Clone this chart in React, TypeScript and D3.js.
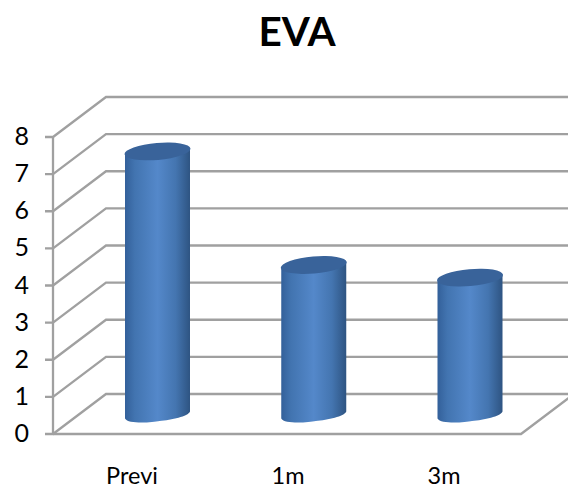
import React from "react";
import * as d3 from "d3";

const categories = ["Previ", "1m", "3m"];
const values = [7.1, 4.04, 3.7];
const yTicks = [0, 1, 2, 3, 4, 5, 6, 7, 8];
const title = "EVA";

const W = 568, H = 488;
const left = 53, right = 521, dx = 53, dy = -40;
const y = d3.scaleLinear().domain([0, 8]).range([434, 137]);
const xBar = d3.scalePoint<string>().domain(categories).range([157.5, 470]);
const xLabel = d3.scalePoint<string>().domain(categories).range([132, 444]);
const baseOffset = 19; // floor inset of the cylinder base
const rx = 32.5, tilt = -5;
const grey = "#a0a0a0";
const font = "Lato, 'Open Sans', sans-serif";

function cylPath(cx: number, top: number, base: number) {
  const s = 3.5;
  const tl = top + s, tr = top - s, bl = base + s, br = base - s;
  return `M${cx - rx},${tl} L${cx - rx},${bl} C${cx - rx + 3},${bl + 6} ${cx - 5},${bl + 4} ${cx + 2},${base + 6} C${cx + 14},${base + 5} ${cx + rx - 2},${br + 5} ${cx + rx},${br} L${cx + rx},${tr} Z`;
}

export default function App() {
  return (
    <svg width={W} height={H} style={{ position: "absolute", left: 0, top: 0, background: "#fff" }}>
      <defs>
        <linearGradient id="cyl" x1="0" x2="1" y1="0" y2="0">
          <stop offset="0" stopColor="#33609a" />
          <stop offset="0.15" stopColor="#4274b0" />
          <stop offset="0.5" stopColor="#5488ca" />
          <stop offset="0.78" stopColor="#4475b0" />
          <stop offset="1" stopColor="#2e5482" />
        </linearGradient>
      </defs>
      <text x={297} y={46} textAnchor="middle" fontFamily={font} fontWeight={700} fontSize={40.5} fill="#000">{title}</text>

      {yTicks.map((t) => (
        <path key={t} d={`M${left - 8},${y(t)} L${left},${y(t)} L${left + dx},${y(t) + dy} L${W},${y(t) + dy}`} stroke={grey} strokeWidth={2.3} fill="none" />
      ))}
      <line x1={left} x2={left} y1={y(0)} y2={y(8)} stroke={grey} strokeWidth={2.3} />
      <path d={`M${left},${y(0)} L${right},${y(0)} L${right + dx},${y(0) + dy}`} fill="none" stroke={grey} strokeWidth={2.3} />

      {yTicks.map((t) => (
        <text key={t} x={29} y={y(t) + 8} textAnchor="end" fontFamily={font} fontSize={25} fill="#000">{t}</text>
      ))}

      {categories.map((c, i) => {
        const cx = xBar(c)!;
        const base = y(0) - baseOffset;
        const top = base - (y(0) - y(values[i]));
        return (
          <g key={c}>
            <path d={cylPath(cx, top, base)} fill="url(#cyl)" />
            <ellipse cx={cx} cy={top} rx={rx + 0.6} ry={8.5} transform={`rotate(${tilt} ${cx} ${top})`} fill="#39639a" />
            <text x={xLabel(c)!} y={484} textAnchor="middle" fontFamily={font} fontSize={23.5} fill="#000">{c}</text>
          </g>
        );
      })}
    </svg>
  );
}
